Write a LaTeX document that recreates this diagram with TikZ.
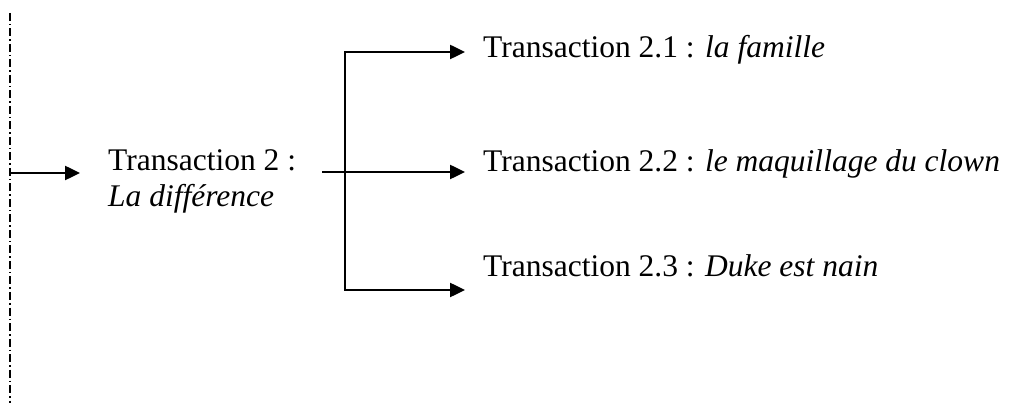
\documentclass[tikz,border=0pt]{standalone}
\usepackage{fontspec}
\setmainfont{Liberation Serif}[ItalicFont={Liberation Serif Italic},BoldFont={Liberation Serif Bold}]
\usetikzlibrary{arrows.meta}
\begin{document}
\begin{tikzpicture}[x=1pt,y=-1pt,
  lbl/.style={anchor=base west,inner sep=0pt,font=\fontsize{31.5}{37}\selectfont},
  arr/.style={line width=2.5pt,-{Triangle[length=15pt,width=14pt]}},
  plain/.style={line width=2.5pt},
  thin/.style={line width=1.5pt},
  dashdotline/.style={line width=1.6pt,dash pattern=on 8pt off 3pt on 1.5pt off 3pt}]
\useasboundingbox (0,0) rectangle (1009,403);
% left dash-dot line
\coordinate (dtop) at (10,13);
\coordinate (dbot) at (10,403);
\draw[dashdotline] (dtop) -- (dbot);
% left text
\node[lbl] (t2) at (108,171) {Transaction 2 :};
\node[lbl] (t2b) at (108,207) {\itshape La différence};
% arrow from dash line to text
\coordinate (din) at (10,173);
\coordinate (dtip) at (80,173);
\draw[arr] (din) -- (dtip);
% branch
\coordinate (m0) at (322,172);
\coordinate (jt) at (345,52);
\coordinate (jm) at (345,172);
\coordinate (jb) at (345,290);
\node[lbl] (n1) at (483,58) {Transaction 2.1 : \textit{la famille}};
\node[lbl] (n2) at (483,172) {Transaction 2.2 : \textit{le maquillage du clown}};
\node[lbl] (n3) at (483,277) {Transaction 2.3 : \textit{Duke est nain}};
\draw[thin] (m0) -- (jm);
\draw[plain,line cap=rect] (jt) -- (jb);
\draw[arr] (jt) -- ([xshift=-18pt]jt -| n1.west);
\draw[arr] (jm) -- ([xshift=-18pt]jm -| n2.west);
\draw[arr] (jb) -- ([xshift=-18pt]jb -| n3.west);
\end{tikzpicture}
\end{document}
